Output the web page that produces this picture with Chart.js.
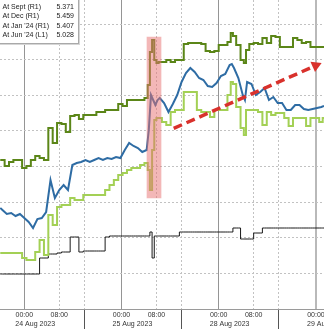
<!DOCTYPE html>
<html>
<head>
<meta charset="utf-8">
<script src="https://cdn.jsdelivr.net/npm/chart.js@4.4.0/dist/chart.umd.min.js"></script>
<style>
  html, body { margin: 0; padding: 0; background: #fff; }
  #wrap { position: relative; width: 324px; height: 329px; overflow: hidden; }
  #legend {
    position: absolute; left: -1px; top: -1px;
    background: #fff; border: 1px solid #a9a9a9; box-shadow: 1px 1px 0 #d6d6d6;
    font-family: 'Liberation Sans', Arial, sans-serif; font-size: 7px; color: #222;
    padding: 2px 4px 0 2.5px; box-sizing: border-box; width: 80px; height: 45px;
  }
  #legend .row { display: flex; justify-content: space-between; height: 9.4px; line-height: 9.4px; white-space: nowrap; }
</style>
</head>
<body>
<div id="wrap">
  <canvas id="c" width="324" height="329"></canvas>
  <div id="legend"></div>
</div>
<script>
// ---- data (trading hours since 24 Aug 2023 00:00; implied rates) ----
const tradingHours = [-5.5,-5,-4,-3,-2,-1,0,1,2,3,4,5,6,7,8,9,10,11,12,13,14,15,16,17,18,19,20,21,22,23,24,25,26,27,28,28.5,29,29.5,30,30.5,31,32,33,34,35,36,37,38,39,40,41,42,43,44,45,46,47,47.5,48,49,50,50.5,51,52,53,54,55,56,57,58,59,60,61,62,63,64,65,66,67,68,68.6];

const septValues = [5.3175,5.3175,5.3175,5.3175,5.3175,5.3175,5.3175,5.3175,5.3175,5.3175,
  5.3255,5.3255,5.3275,5.3275,5.3280,5.3285,5.3285,5.3360,5.3360,5.3285,
  5.3290,5.3290,5.3290,5.3290,5.3290,5.3360,5.3365,5.3365,5.3365,5.3365,
  5.3365,5.3365,5.3365,5.3365,5.3365,5.3365,5.3385,5.3255,5.3365,5.3365,
  5.3365,5.3365,5.3365,5.3365,5.3365,5.3385,5.3385,5.3385,5.3385,5.3385,
  5.3385,5.3385,5.3385,5.3385,5.3385,5.3385,5.3385,5.3385,5.3405,5.3405,
  5.3350,5.3350,5.3350,5.3350,5.3380,5.3380,5.3405,5.3405,5.3405,5.3405,
  5.3405,5.3405,5.3405,5.3405,5.3405,5.3405,5.3405,5.3405,5.3405,5.3405,5.3405];

const decValues = [5.3745,5.3745,5.3715,5.3735,5.3745,5.3745,5.3705,5.3715,5.3745,5.3765,
  5.3755,5.3745,5.3905,5.3830,5.3930,5.3925,5.3885,5.3965,5.3970,5.3950,
  5.3970,5.3970,5.3970,5.3985,5.3985,5.3995,5.3995,5.3995,5.4025,5.4015,
  5.4045,5.4045,5.4045,5.4045,5.4055,5.4120,5.4285,5.4345,5.4245,5.4230,
  5.4235,5.4235,5.4245,5.4235,5.4245,5.4245,5.4325,5.4330,5.4330,5.4330,
  5.4325,5.4290,5.4285,5.4290,5.4320,5.4320,5.4335,5.4380,5.4365,5.4320,
  5.4245,5.4230,5.4295,5.4325,5.4330,5.4325,5.4355,5.4330,5.4365,5.4360,
  5.4310,5.4310,5.4310,5.4355,5.4345,5.4330,5.4335,5.4310,5.4310,5.4310,5.4310];

const jan24Values = [5.3505,5.3495,5.3475,5.3480,5.3465,5.3475,5.3455,5.3435,5.3405,5.3450,
  5.3455,5.3485,5.3645,5.3555,5.3595,5.3620,5.3595,5.3720,5.3730,5.3735,
  5.3745,5.3735,5.3745,5.3755,5.3745,5.3755,5.3750,5.3760,5.3755,5.3795,
  5.3830,5.3815,5.3805,5.3785,5.3795,5.3895,5.4070,5.4045,5.4020,5.4045,
  5.4055,5.4030,5.3985,5.4025,5.4070,5.4135,5.4180,5.4205,5.4185,5.4155,
  5.4145,5.4115,5.4110,5.4130,5.4165,5.4175,5.4220,5.4225,5.4205,5.4155,
  5.4070,5.4045,5.4135,5.4125,5.4070,5.4085,5.4105,5.4045,5.4060,5.4030,
  5.4030,5.3995,5.3995,5.4020,5.4020,5.4000,5.3995,5.4000,5.4005,5.4010,5.4015];

const jun24Values = [5.3280,5.3280,5.3280,5.3280,5.3280,5.3280,5.3255,5.3245,5.3245,5.3285,
  5.3345,5.3270,5.3470,5.3420,5.3510,5.3520,5.3520,5.3555,5.3545,5.3545,
  5.3570,5.3570,5.3570,5.3570,5.3570,5.3595,5.3620,5.3645,5.3670,5.3680,
  5.3695,5.3705,5.3705,5.3720,5.3730,5.3695,5.3595,5.3795,5.3945,5.3955,
  5.3955,5.3935,5.3920,5.3985,5.3995,5.3995,5.4085,5.4085,5.4085,5.3995,
  5.3985,5.3985,5.3960,5.3995,5.3995,5.3995,5.4070,5.4135,5.4125,5.4010,
  5.3905,5.3870,5.3995,5.3995,5.3995,5.3985,5.3920,5.3985,5.3970,5.3980,
  5.3980,5.3955,5.3915,5.3955,5.3955,5.3955,5.3915,5.3955,5.3955,5.3935,5.3955];

// Jackson Hole window (trading hours) and rate span of the highlight
const highlightHour = [29.69];
const highlightRange = [5.3555, 5.4360];

// red trend arrow
const arrowHours = [34.2, 66.7];
const arrowRates = [5.3903, 5.4217];

// axis ticks
const dayStarts = [0, 22.25, 44.5, 66.75];
const dayLabels = ['24 Aug 2023', '25 Aug 2023', '28 Aug 2023', '29 Aug 2023'];
const eightAm = [8, 30.25, 52.5];
const sessionBreaks = [13.75, 36, 58.25];
const yGrid = [5.3000, 5.3178, 5.3356, 5.3534, 5.3712, 5.3890, 5.4068, 5.4246, 5.4424];

// legend
const legendNames = ['At Sept (R1)', 'At Dec (R1)', "At Jan '24 (R1)", "At Jun '24 (L1)"];
const legendValues = ['5.371', '5.459', '5.407', '5.028'];

// ---- build ----
const lg = document.getElementById('legend');
legendNames.forEach((n, i) => {
  const r = document.createElement('div'); r.className = 'row';
  const a = document.createElement('span'); a.textContent = n;
  const b = document.createElement('span'); b.textContent = legendValues[i];
  r.appendChild(a); r.appendChild(b); lg.appendChild(r);
});

const DATE_OFFSET = 2.5;
const xTicks = [];
sessionBreaks.forEach(v => xTicks.push({ value: v, kind: 'sep', label: '' }));
dayStarts.forEach((v, i) => xTicks.push({ value: v, kind: i === dayStarts.length - 1 ? 'today' : 'day', label: ['00:00'] }));
eightAm.forEach(v => xTicks.push({ value: v, kind: 'eight', label: ['08:00'] }));
dayStarts.forEach((v, i) => xTicks.push({ value: v + DATE_OFFSET, kind: 'date', label: ['', dayLabels[i]] }));

const kindOf = ctx => (ctx && ctx.index !== undefined && xTicks[ctx.index]) ? xTicks[ctx.index].kind : null;
const series = arr => tradingHours.map((t, i) => ({ x: t, y: arr[i] }));
const FONT = "'Liberation Sans', Arial, sans-serif";

new Chart(document.getElementById('c'), {
  data: {
    datasets: [
      { type: 'line', label: 'arrow', data: arrowHours.map((h, i) => ({ x: h, y: arrowRates[i] })),
        borderColor: '#d9312c', borderWidth: 3.5, borderDash: [9, 5], borderCapStyle: 'butt',
        pointRadius: [0, 6.5], pointHoverRadius: 0, pointStyle: 'triangle', pointBackgroundColor: '#d9312c', pointBorderWidth: 0,
        rotation: ctx => {
          const c = ctx.chart, xs = c.scales.x, ys = c.scales.y;
          const dx = xs.getPixelForValue(arrowHours[1]) - xs.getPixelForValue(arrowHours[0]);
          const dy = ys.getPixelForValue(arrowRates[1]) - ys.getPixelForValue(arrowRates[0]);
          return Math.atan2(dx, -dy) * 180 / Math.PI;
        },
        order: 0 },
      { type: 'bar', label: 'highlight', data: highlightHour.map(h => ({ x: h, y: highlightRange })),
        backgroundColor: 'rgba(232,112,112,0.5)', borderWidth: 0, barThickness: 14, order: 1 },
      { type: 'line', label: 'Dec', data: series(decValues), borderColor: '#5b8618', borderWidth: 2,
        pointRadius: 0, stepped: 'middle', order: 2 },
      { type: 'line', label: "Jan '24", data: series(jan24Values), borderColor: '#2e6ca4', borderWidth: 2,
        pointRadius: 0, order: 3 },
      { type: 'line', label: "Jun '24", data: series(jun24Values), borderColor: '#a3d055', borderWidth: 2,
        pointRadius: 0, stepped: 'middle', order: 4 },
      { type: 'line', label: 'Sept', data: series(septValues), borderColor: '#1a1a1a', borderWidth: 1,
        pointRadius: 0, stepped: 'middle', order: 5 }
    ]
  },
  options: {
    responsive: false, animation: false, devicePixelRatio: 1,
    layout: { padding: 0, autoPadding: false },
    plugins: { legend: { display: false }, tooltip: { enabled: false } },
    scales: {
      x: {
        type: 'linear', position: 'bottom', min: -5.56, max: 68.6, offset: false,
        afterBuildTicks: s => { s.ticks = xTicks.map(t => ({ value: t.value })); },
        afterFit: s => { s.height = 20; s.paddingLeft = 0; s.paddingRight = 0; },
        ticks: { autoSkip: false, maxRotation: 0, minRotation: 0, padding: -18, color: '#333',
          font: { family: FONT, size: 7, lineHeight: 9 / 7 },
          callback: (v, i) => xTicks[i] ? xTicks[i].label : '' },
        grid: {
          offset: false, drawTicks: true, tickLength: 20, tickWidth: 1,
          color: ctx => { const k = kindOf(ctx); return k === 'day' ? '#959595' : k === 'today' ? '#b9b9b9' : (k === 'eight' || k === 'sep') ? '#c2c2c2' : 'rgba(0,0,0,0)'; },
          lineWidth: ctx => kindOf(ctx) === 'today' ? 2 : 1,
          tickColor: ctx => kindOf(ctx) === 'sep' ? '#555' : 'rgba(0,0,0,0)'
        },
        border: { display: true, color: '#9a9a9a', width: 1,
          dash: ctx => { const k = kindOf(ctx); return (k === 'eight' || k === 'sep') ? [2, 2] : []; } }
      },
      y: {
        type: 'linear', position: 'left', min: 5.3, max: 5.4545,
        afterBuildTicks: s => { s.ticks = yGrid.map(v => ({ value: v })); },
        afterFit: s => { s.width = 0; s.paddingTop = 0; s.paddingBottom = 0; },
        ticks: { display: false },
        grid: { drawTicks: false, color: '#c2c2c2', lineWidth: 1 },
        border: { display: false, dash: [2, 2] }
      }
    }
  }
});
</script>
</body>
</html>
